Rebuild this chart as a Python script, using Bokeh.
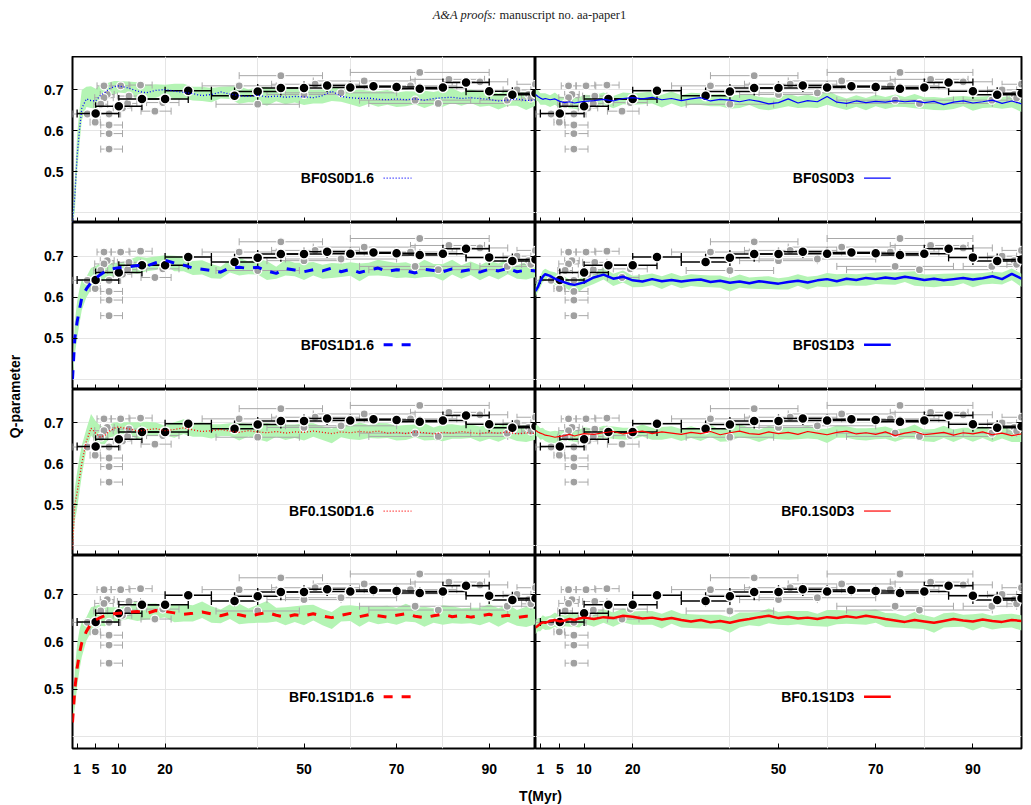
import numpy as np
from bokeh.plotting import figure
from bokeh.layouts import row, column
from bokeh.models import Range1d, LinearAxis, FixedTicker
from bokeh.core.properties import value
from bokeh.embed import file_html
from bokeh.resources import INLINE

# ---------------- simulation time grid (Myr) ----------------
t_sim = [0, 0.5, 1, 1.5, 2, 3, 4, 5, 6, 7, 8, 9, 10,
         12, 14, 16, 18, 20, 22, 24, 26, 28, 30,
         32, 34, 36, 38, 40, 42, 44, 46, 48, 50,
         52, 54, 56, 58, 60, 62, 64, 66, 68, 70,
         72, 74, 76, 78, 80, 82, 84, 86, 88, 90,
         92, 94, 96, 98, 100]

# ---------------- median Q of each model ----------------
q_bf0s0d16 = [0.375, 0.44, 0.54, 0.60, 0.655, 0.678, 0.674, 0.673, 0.686, 0.694, 0.703, 0.708, 0.710,
              0.705, 0.697, 0.693, 0.699, 0.701, 0.697, 0.694, 0.691, 0.686, 0.689,
              0.695, 0.690, 0.686, 0.684, 0.687, 0.683, 0.685, 0.682, 0.684, 0.683,
              0.681, 0.686, 0.697, 0.684, 0.681, 0.679, 0.680, 0.677, 0.676, 0.678,
              0.676, 0.678, 0.675, 0.679, 0.681, 0.682, 0.679, 0.681, 0.679, 0.677,
              0.673, 0.675, 0.678, 0.674, 0.676]
q_bf0s0d3 = [0.689, 0.684, 0.680, 0.677, 0.679, 0.676, 0.678, 0.672, 0.669, 0.671, 0.668, 0.670, 0.672,
             0.674, 0.677, 0.673, 0.679, 0.681, 0.678, 0.682, 0.676, 0.679, 0.674,
             0.678, 0.681, 0.673, 0.677, 0.675, 0.671, 0.676, 0.672, 0.666, 0.669,
             0.678, 0.668, 0.674, 0.671, 0.684, 0.670, 0.667, 0.673, 0.669, 0.672,
             0.670, 0.674, 0.671, 0.673, 0.669, 0.672, 0.664, 0.670, 0.673, 0.668,
             0.671, 0.675, 0.667, 0.673, 0.666]
q_bf0s1d16 = [0.40, 0.50, 0.54, 0.57, 0.598, 0.62, 0.636, 0.646, 0.655, 0.662, 0.667, 0.670, 0.672,
              0.674, 0.677, 0.676, 0.684, 0.690, 0.683, 0.678, 0.671, 0.668, 0.665,
              0.661, 0.672, 0.673, 0.670, 0.673, 0.664, 0.658, 0.670, 0.666, 0.662,
              0.667, 0.664, 0.671, 0.662, 0.668, 0.660, 0.666, 0.671, 0.663, 0.667,
              0.664, 0.659, 0.668, 0.665, 0.662, 0.669, 0.663, 0.667, 0.661, 0.668,
              0.664, 0.670, 0.662, 0.666, 0.664]
q_bf0s1d3 = [0.615, 0.625, 0.640, 0.650, 0.656, 0.652, 0.645, 0.640, 0.636, 0.632, 0.630, 0.633, 0.636,
             0.648, 0.655, 0.645, 0.650, 0.641, 0.638, 0.644, 0.639, 0.642, 0.638,
             0.641, 0.643, 0.637, 0.640, 0.635, 0.638, 0.634, 0.639, 0.636, 0.633,
             0.637, 0.640, 0.636, 0.641, 0.644, 0.639, 0.645, 0.642, 0.647, 0.644,
             0.648, 0.645, 0.650, 0.646, 0.642, 0.645, 0.641, 0.644, 0.647, 0.643,
             0.646, 0.651, 0.644, 0.657, 0.645]
q_bf01s0d16 = [0.39, 0.50, 0.53, 0.565, 0.60, 0.655, 0.687, 0.675, 0.665, 0.670, 0.680, 0.687, 0.690,
               0.686, 0.680, 0.683, 0.686, 0.681, 0.684, 0.688, 0.683, 0.679, 0.681,
               0.684, 0.680, 0.677, 0.681, 0.678, 0.676, 0.679, 0.675, 0.678, 0.677,
               0.680, 0.677, 0.674, 0.678, 0.676, 0.679, 0.677, 0.680, 0.675, 0.677,
               0.674, 0.678, 0.676, 0.673, 0.677, 0.675, 0.679, 0.676, 0.674, 0.677,
               0.675, 0.678, 0.673, 0.676, 0.674]
q_bf01s0d3 = [0.682, 0.678, 0.675, 0.673, 0.670, 0.668, 0.665, 0.667, 0.669, 0.672, 0.668, 0.671, 0.674,
              0.672, 0.676, 0.679, 0.673, 0.677, 0.680, 0.674, 0.678, 0.675, 0.672,
              0.677, 0.674, 0.679, 0.671, 0.676, 0.680, 0.674, 0.672, 0.678, 0.674,
              0.677, 0.672, 0.679, 0.675, 0.671, 0.677, 0.680, 0.673, 0.676, 0.672,
              0.678, 0.669, 0.675, 0.679, 0.671, 0.674, 0.677, 0.670, 0.676, 0.673,
              0.678, 0.671, 0.675, 0.669, 0.673]
q_bf01s1d16 = [0.43, 0.50, 0.545, 0.575, 0.598, 0.622, 0.638, 0.646, 0.651, 0.655, 0.657, 0.659, 0.660,
               0.662, 0.664, 0.660, 0.666, 0.664, 0.661, 0.658, 0.660, 0.663, 0.659,
               0.655, 0.660, 0.657, 0.653, 0.658, 0.662, 0.656, 0.652, 0.657, 0.655,
               0.659, 0.654, 0.651, 0.656, 0.660, 0.653, 0.657, 0.655, 0.652, 0.656,
               0.659, 0.654, 0.651, 0.655, 0.658, 0.653, 0.656, 0.652, 0.655, 0.658,
               0.653, 0.656, 0.651, 0.654, 0.652]
q_bf01s1d3 = [0.630, 0.634, 0.638, 0.641, 0.640, 0.644, 0.646, 0.643, 0.645, 0.648, 0.646, 0.649, 0.651,
              0.648, 0.652, 0.650, 0.655, 0.653, 0.649, 0.651, 0.647, 0.650, 0.646,
              0.643, 0.646, 0.641, 0.644, 0.640, 0.645, 0.648, 0.652, 0.655, 0.650,
              0.653, 0.649, 0.651, 0.648, 0.652, 0.650, 0.654, 0.651, 0.655, 0.652,
              0.648, 0.645, 0.642, 0.646, 0.643, 0.640, 0.644, 0.648, 0.645, 0.643,
              0.647, 0.644, 0.642, 0.646, 0.644]

# ---------------- spread of the runs around the median ----------------
spread_lo_d16 = [0.0, -0.04, -0.04, -0.035, -0.03, -0.02, -0.018, -0.02, -0.017, -0.022, -0.015, -0.02, -0.016,
                 -0.014, -0.02, -0.013, -0.018, -0.012, -0.02, -0.015, -0.017, -0.013, -0.019,
                 -0.016, -0.012, -0.02, -0.014, -0.018, -0.022, -0.013, -0.017, -0.015, -0.02,
                 -0.014, -0.019, -0.024, -0.013, -0.016, -0.021, -0.014, -0.018, -0.012, -0.02,
                 -0.016, -0.013, -0.019, -0.015, -0.022, -0.014, -0.018, -0.013, -0.02, -0.016,
                 -0.021, -0.014, -0.017, -0.023, -0.015]
spread_hi_d16 = [0.0, 0.04, 0.05, 0.05, 0.045, 0.03, 0.035, 0.03, 0.028, 0.02, 0.016, 0.014, 0.012,
                 0.016, 0.022, 0.02, 0.015, 0.012, 0.018, 0.021, 0.017, 0.022, 0.016,
                 0.013, 0.019, 0.023, 0.017, 0.02, 0.024, 0.016, 0.021, 0.018, 0.022,
                 0.019, 0.015, 0.012, 0.02, 0.017, 0.022, 0.018, 0.02, 0.024, 0.016,
                 0.021, 0.018, 0.023, 0.016, 0.019, 0.022, 0.015, 0.02, 0.017, 0.021,
                 0.018, 0.023, 0.016, 0.02, 0.017]
spread_lo_d3 = [-0.014, -0.012, -0.016, -0.013, -0.015, -0.018, -0.014, -0.017, -0.012, -0.016, -0.014, -0.019, -0.013,
                -0.016, -0.012, -0.018, -0.014, -0.017, -0.013, -0.015, -0.019, -0.012, -0.016,
                -0.014, -0.018, -0.013, -0.017, -0.021, -0.015, -0.013, -0.019, -0.016, -0.014,
                -0.018, -0.012, -0.017, -0.015, -0.02, -0.013, -0.016, -0.014, -0.019, -0.012,
                -0.017, -0.015, -0.013, -0.018, -0.016, -0.021, -0.014, -0.017, -0.013, -0.019,
                -0.015, -0.018, -0.013, -0.016, -0.02]
spread_hi_d3 = [0.013, 0.016, 0.012, 0.015, 0.013, 0.011, 0.016, 0.012, 0.014, 0.011, 0.015, 0.012, 0.016,
                0.013, 0.017, 0.012, 0.015, 0.011, 0.016, 0.014, 0.012, 0.017, 0.013,
                0.015, 0.011, 0.016, 0.013, 0.012, 0.017, 0.014, 0.011, 0.015, 0.013,
                0.012, 0.016, 0.014, 0.011, 0.015, 0.017, 0.012, 0.014, 0.011, 0.016,
                0.013, 0.015, 0.012, 0.017, 0.013, 0.011, 0.016, 0.014, 0.012, 0.015,
                0.013, 0.011, 0.016, 0.013, 0.012]

# ---------------- observed clusters (grey) ----------------
obs_t = [3.2, 4.9, 6.8, 7.5, 6.8, 6.1, 7.9, 7.9, 7.9, 7.9, 10.4, 10.8, 11.9, 12.2, 14.7, 17.8, 19.5,
         36.0, 40.0, 45.0, 52.4, 50.0, 58.0, 63.0, 73.0, 74.0, 75.0, 79.0, 81.3, 88.0, 93.9, 96.0,
         98.5, 100.0, 99.0]
obs_q = [0.641, 0.621, 0.710, 0.689, 0.681, 0.665, 0.641, 0.614, 0.593, 0.555, 0.710, 0.656, 0.667,
         0.685, 0.712, 0.648, 0.669, 0.710, 0.665, 0.735, 0.714, 0.689, 0.693, 0.722, 0.710, 0.675,
         0.743, 0.667, 0.726, 0.720, 0.675, 0.700, 0.689, 0.714, 0.680]
obs_t_lo = [0.0, 3.8, 5.3, 6.0, 4.8, 4.6, 6.0, 6.1, 6.1, 6.1, 8.4, 8.8, 9.9, 9.7, 12.2, 14.8, 16.0,
            28.0, 31.0, 36.0, 43.0, 42.0, 46.0, 52.0, 63.0, 62.0, 60.0, 64.0, 73.0, 82.0, 88.0, 93.0,
            95.0, 96.0, 97.0]
obs_t_hi = [5.0, 6.0, 8.3, 9.0, 8.8, 7.6, 10.4, 10.8, 10.8, 10.8, 12.4, 12.8, 13.9, 14.7, 17.2, 21.3, 23.0,
            44.0, 49.0, 54.0, 62.0, 58.0, 70.0, 74.0, 83.0, 86.0, 90.0, 94.0, 89.0, 94.0, 99.0, 99.0,
            102.0, 104.0, 101.0]

# ---------------- binned observations (black) ----------------
bin_t = [5, 10, 15, 20, 25, 35, 40, 45, 50, 55, 60, 65, 70, 75, 80, 85, 90, 95, 100]
bin_q = [0.642, 0.660, 0.678, 0.678, 0.698, 0.686, 0.696, 0.705, 0.705, 0.711, 0.706, 0.709,
         0.707, 0.703, 0.706, 0.718, 0.697, 0.688, 0.692]
bin_t_lo = [1, 5, 10, 15, 20, 30, 35, 40, 45, 50, 55, 60, 65, 70, 75, 80, 85, 90, 95]
bin_t_hi = [10, 15, 20, 25, 30, 40, 45, 50, 55, 60, 65, 70, 75, 80, 85, 90, 95, 100, 105]
bin_q_err = [0.008, 0.008, 0.010, 0.010, 0.010, 0.012, 0.012, 0.010, 0.012, 0.012, 0.010, 0.010,
             0.012, 0.010, 0.012, 0.012, 0.010, 0.010, 0.010]

x_ticks = [1, 5, 10, 20, 50, 70, 90]
y_ticks = [0.5, 0.6, 0.7]

models = [
    # name, series, colour, style, column, row
    ("BF0S0D1.6", q_bf0s0d16, "#0000ff", "dotted", 0, 0),
    ("BF0S0D3", q_bf0s0d3, "#0000ff", "thin", 1, 0),
    ("BF0S1D1.6", q_bf0s1d16, "#0000ff", "dashed", 0, 1),
    ("BF0S1D3", q_bf0s1d3, "#0000ff", "thick", 1, 1),
    ("BF0.1S0D1.6", q_bf01s0d16, "#ff0000", "dotted", 0, 2),
    ("BF0.1S0D3", q_bf01s0d3, "#ff0000", "thin", 1, 2),
    ("BF0.1S1D1.6", q_bf01s1d16, "#ff0000", "dashed", 0, 3),
    ("BF0.1S1D3", q_bf01s1d3, "#ff0000", "thick", 1, 3),
]

LINE_STYLES = {
    "dotted": dict(line_width=1.3, line_dash="1 2"),
    "thin": dict(line_width=1.2),
    "dashed": dict(line_width=3, line_dash="9 9"),
    "thick": dict(line_width=2.5),
}

SANS = value("Liberation Sans")
ROW_HEIGHTS = [166, 167, 166, 223]
COL_WIDTHS = [507, 495]
KEY_TEXT_X = [65.1, 65.6]
KEY_LINE_X = [(67.2, 73.2), (67.6, 73.1)]
KEY_Q = 0.484


def style_axis(ax, ticks, labels):
    ax.axis_line_color = None
    ax.major_tick_in = 5
    ax.major_tick_out = 0
    ax.major_tick_line_color = "black"
    ax.major_tick_line_width = 1
    ax.minor_tick_line_color = None
    if labels:
        ax.major_label_text_font = "Liberation Sans"
        ax.major_label_text_font_style = "bold"
        ax.major_label_text_font_size = "14px"
        ax.major_label_text_color = "black"
    else:
        # tick marks only
        ax.major_label_overrides = {float(t): "" for t in ticks}
        ax.major_label_text_font_size = "0px"
        ax.major_label_standoff = 0


def make_panel(name, series, colour, style, col, rown):
    left = col == 0
    bottom = rown == 3
    p = figure(width=COL_WIDTHS[col], height=ROW_HEIGHTS[rown],
               x_range=Range1d(0, 100), y_range=Range1d(0.375, 0.782),
               output_backend="svg", toolbar_location=None,
               x_axis_location=None, y_axis_location=None,
               min_border_left=44 if left else 0,
               min_border_right=0 if left else 9,
               min_border_top=0, min_border_bottom=30 if bottom else 0)
    p.outline_line_color = "black"
    p.outline_line_width = 2
    p.background_fill_color = "white"
    p.border_fill_color = "white"

    yl = LinearAxis(ticker=FixedTicker(ticks=y_ticks))
    style_axis(yl, y_ticks, left)
    if left:
        yl.major_label_standoff = 9
    p.add_layout(yl, "left")
    yr = LinearAxis(ticker=FixedTicker(ticks=y_ticks))
    style_axis(yr, y_ticks, False)
    p.add_layout(yr, "right")
    xb = LinearAxis(ticker=FixedTicker(ticks=x_ticks))
    style_axis(xb, x_ticks, bottom)
    if bottom:
        xb.major_label_standoff = 15
    p.add_layout(xb, "below")

    # spread of the simulations
    lo_off, hi_off = (spread_lo_d16, spread_hi_d16) if left else (spread_lo_d3, spread_hi_d3)
    q = np.array(series)
    p.varea(x=t_sim, y1=q + np.array(lo_off), y2=q + np.array(hi_off),
            fill_color="#b4f4b4", fill_alpha=1.0)

    # observed clusters
    p.segment(x0=obs_t_lo, y0=obs_q, x1=obs_t_hi, y1=obs_q, line_color="#a8a8a8", line_width=1)
    p.scatter(x=obs_t_lo, y=obs_q, marker="dash", angle=np.pi / 2, size=7,
              line_color="#a8a8a8", line_width=1)
    p.scatter(x=obs_t_hi, y=obs_q, marker="dash", angle=np.pi / 2, size=7,
              line_color="#a8a8a8", line_width=1)
    p.scatter(x=obs_t, y=obs_q, marker="circle", size=8, fill_color="#a0a0a0",
              line_color="white", line_width=1.2)

    # binned observations
    bq = np.array(bin_q)
    be = np.array(bin_q_err)
    p.segment(x0=bin_t, y0=bq - be, x1=bin_t, y1=bq + be, line_color="black", line_width=1)
    p.segment(x0=bin_t_lo, y0=bin_q, x1=bin_t_hi, y1=bin_q, line_color="black", line_width=1.5)
    p.scatter(x=bin_t_lo, y=bin_q, marker="dash", angle=np.pi / 2, size=8,
              line_color="black", line_width=1.3)
    p.scatter(x=bin_t_hi, y=bin_q, marker="dash", angle=np.pi / 2, size=8,
              line_color="black", line_width=1.3)
    p.scatter(x=bin_t, y=bin_q, marker="circle", size=10, fill_color="black",
              line_color="white", line_width=1.5)

    # model median
    p.line(x=t_sim, y=series, line_color=colour, **LINE_STYLES[style])

    # key
    p.text(x=[KEY_TEXT_X[col]], y=[KEY_Q], text=[name], text_font=SANS,
           text_font_style="bold", text_font_size="14px", text_align="right",
           text_baseline="middle", text_color="black")
    x0, x1 = KEY_LINE_X[col]
    p.line(x=[x0, x1], y=[KEY_Q, KEY_Q], line_color=colour, **LINE_STYLES[style])
    return p


def blank(width, height):
    f = figure(width=width, height=height, x_range=Range1d(0, width), y_range=Range1d(0, height),
               output_backend="svg", toolbar_location=None,
               x_axis_location=None, y_axis_location=None, min_border=0)
    f.outline_line_color = None
    f.grid.visible = False
    return f


panels = {(m[4], m[5]): make_panel(*m) for m in models}

header = blank(1031, 56)
header.text(x=[496], y=[42], text=["A&A proofs:"], text_font=value("Liberation Serif"),
            text_font_style="italic", text_font_size="12.5px", text_align="right",
            text_baseline="middle", text_color="#222222")
header.text(x=[499], y=[42], text=["manuscript no. aa-paper1"], text_font=value("Liberation Serif"),
            text_font_size="12.5px", text_align="left", text_baseline="middle", text_color="#222222")

ylab = blank(28, sum(ROW_HEIGHTS))
ylab.text(x=[14], y=[382], text=["Q-parameter"], text_font=SANS, text_font_style="bold",
          text_font_size="14px", angle=np.pi / 2, text_align="center", text_baseline="middle",
          text_color="black")

footer = blank(1031, 27)
footer.text(x=[540], y=[10], text=["T(Myr)"], text_font=SANS, text_font_style="bold",
            text_font_size="14px", text_align="center", text_baseline="middle", text_color="black")

left_col = column([panels[(0, r)] for r in range(4)], spacing=0)
right_col = column([panels[(1, r)] for r in range(4)], spacing=0)
layout = column([header, row([ylab, left_col, right_col], spacing=0), footer], spacing=0)

with open("out.html", "w") as fh:
    fh.write(file_html(layout, INLINE))
